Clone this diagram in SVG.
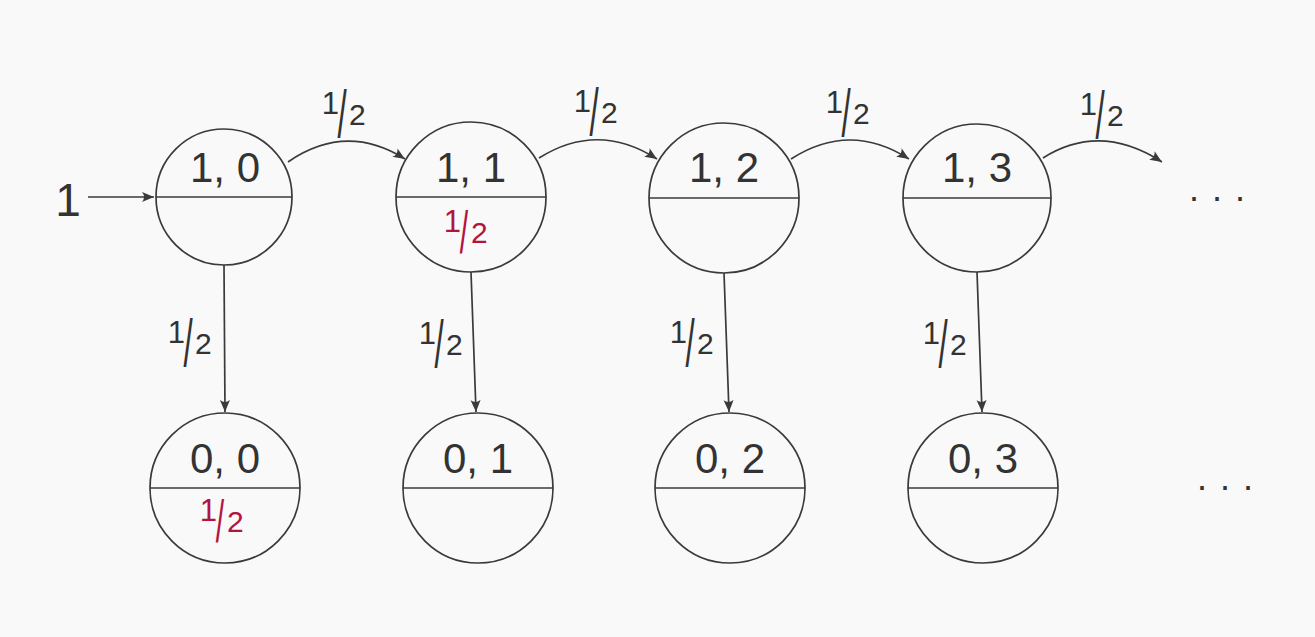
<svg xmlns="http://www.w3.org/2000/svg" width="1315" height="637" viewBox="0 0 1315 637">
<style>
.bg{fill:#f9f9f9}
.nc{fill:none;stroke:#3a3a3a;stroke-width:1.7}
.sp{stroke:#3a3a3a;stroke-width:1.7}
.lab{font-family:"Liberation Sans",Arial,sans-serif;font-size:42px;fill:#333;text-anchor:middle}
.edge{fill:none;stroke:#3a3a3a;stroke-width:1.7}
.n{font-family:"Liberation Sans",Arial,sans-serif;font-size:31px;fill:#333;text-anchor:end}
.d{font-family:"Liberation Sans",Arial,sans-serif;font-size:30px;fill:#333}
.s{font-family:"Liberation Sans",Arial,sans-serif;font-size:66px;fill:#333;text-anchor:middle}
.red .n,.red .d,.red .s{fill:#b3143f}
.red .s{font-size:60px}
.dots{font-family:"Liberation Sans",Arial,sans-serif;font-size:36px;fill:#333;letter-spacing:13px}
</style>
<defs>
<marker id="ah" markerUnits="userSpaceOnUse" markerWidth="14" markerHeight="12" viewBox="0 0 14 12" refX="12" refY="6" orient="auto">
<path d="M0,1 L12,6 L0,11 Q4,6 0,1 Z" fill="#3a3a3a"/>
</marker>
</defs>
<rect class="bg" x="0" y="0" width="1315" height="637"/>

<g id="connectors">
<path class="edge" d="M88,197 L154,197" marker-end="url(#ah)"/>
<path class="edge" d="M288,162 Q346,122 405,159" marker-end="url(#ah)"/>
<path class="edge" d="M539,158 Q598,121 657,159" marker-end="url(#ah)"/>
<path class="edge" d="M791,159 Q850,121 909,159" marker-end="url(#ah)"/>
<path class="edge" d="M1043,158 Q1100,122 1162,162" marker-end="url(#ah)"/>
<path class="edge" d="M224,265 L225,412" marker-end="url(#ah)"/>
<path class="edge" d="M471,272 L476,412" marker-end="url(#ah)"/>
<path class="edge" d="M724,273 L729,412" marker-end="url(#ah)"/>
<path class="edge" d="M977,272 L982,412" marker-end="url(#ah)"/>
</g>

<g id="edge-labels">
<text class="lab" x="68" y="216" style="font-size:46px">1</text>
<g transform="translate(342,114)"><text class="n" x="-3" y="0">1</text><text class="s" transform="scale(0.5,1)" x="0" y="23">/</text><text class="d" x="7" y="11">2</text></g>
<g transform="translate(594,112)"><text class="n" x="-3" y="0">1</text><text class="s" transform="scale(0.5,1)" x="0" y="23">/</text><text class="d" x="7" y="11">2</text></g>
<g transform="translate(846,113)"><text class="n" x="-3" y="0">1</text><text class="s" transform="scale(0.5,1)" x="0" y="23">/</text><text class="d" x="7" y="11">2</text></g>
<g transform="translate(1100,115)"><text class="n" x="-3" y="0">1</text><text class="s" transform="scale(0.5,1)" x="0" y="23">/</text><text class="d" x="7" y="11">2</text></g>
<g transform="translate(188,343)"><text class="n" x="-3" y="0">1</text><text class="s" transform="scale(0.5,1)" x="0" y="23">/</text><text class="d" x="7" y="11">2</text></g>
<g transform="translate(439,344)"><text class="n" x="-3" y="0">1</text><text class="s" transform="scale(0.5,1)" x="0" y="23">/</text><text class="d" x="7" y="11">2</text></g>
<g transform="translate(690,343)"><text class="n" x="-3" y="0">1</text><text class="s" transform="scale(0.5,1)" x="0" y="23">/</text><text class="d" x="7" y="11">2</text></g>
<g transform="translate(943,344)"><text class="n" x="-3" y="0">1</text><text class="s" transform="scale(0.5,1)" x="0" y="23">/</text><text class="d" x="7" y="11">2</text></g>
</g>

<g id="n10">
<circle class="nc" cx="224" cy="197" r="68"/>
<line class="sp" x1="156" y1="197" x2="292" y2="197"/>
<text class="lab" x="225" y="182">1, 0</text>
</g>
<g id="n11">
<circle class="nc" cx="471" cy="197" r="75"/>
<line class="sp" x1="396" y1="197" x2="546" y2="197"/>
<text class="lab" x="471" y="182">1, 1</text>
<g class="red" transform="translate(464,232)"><text class="n" x="-3" y="0">1</text><text class="s" transform="scale(0.5,1)" x="0" y="21">/</text><text class="d" x="7" y="11">2</text></g>
</g>
<g id="n12">
<circle class="nc" cx="724" cy="198" r="75"/>
<line class="sp" x1="649" y1="198" x2="799" y2="198"/>
<text class="lab" x="724" y="182">1, 2</text>
</g>
<g id="n13">
<circle class="nc" cx="977" cy="198" r="74"/>
<line class="sp" x1="903" y1="198" x2="1051" y2="198"/>
<text class="lab" x="977" y="182">1, 3</text>
</g>
<g id="n00">
<circle class="nc" cx="225" cy="488" r="75"/>
<line class="sp" x1="150" y1="488" x2="300" y2="488"/>
<text class="lab" x="225" y="473">0, 0</text>
<g class="red" transform="translate(220,521)"><text class="n" x="-3" y="0">1</text><text class="s" transform="scale(0.5,1)" x="0" y="21">/</text><text class="d" x="7" y="11">2</text></g>
</g>
<g id="n01">
<circle class="nc" cx="478" cy="488" r="75"/>
<line class="sp" x1="403" y1="488" x2="553" y2="488"/>
<text class="lab" x="478" y="473">0, 1</text>
</g>
<g id="n02">
<circle class="nc" cx="730" cy="488" r="75"/>
<line class="sp" x1="655" y1="488" x2="805" y2="488"/>
<text class="lab" x="730" y="473">0, 2</text>
</g>
<g id="n03">
<circle class="nc" cx="983" cy="488" r="75"/>
<line class="sp" x1="908" y1="488" x2="1058" y2="488"/>
<text class="lab" x="983" y="473">0, 3</text>
</g>
<g id="dots-top"><text class="dots" x="1189" y="201">...</text></g>
<g id="dots-bottom"><text class="dots" x="1197" y="490">...</text></g>
</svg>
